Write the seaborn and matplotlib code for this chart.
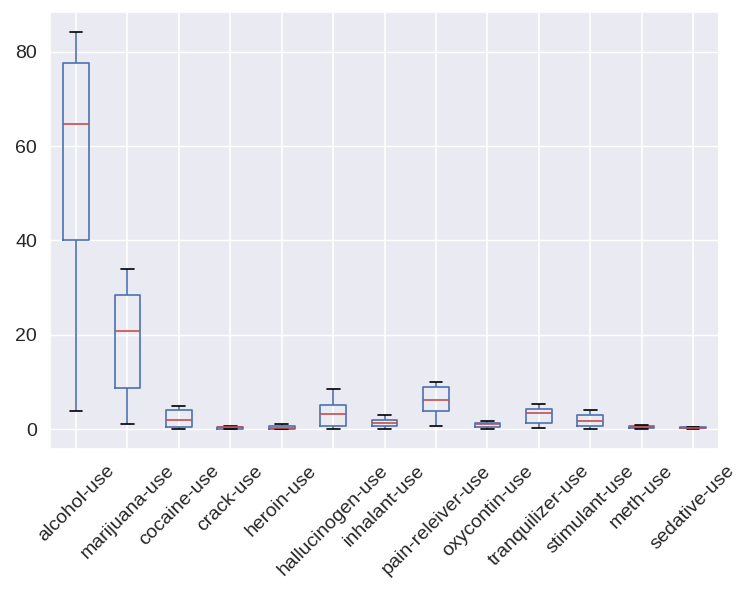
import numpy as np
import pandas as pd
import matplotlib.pyplot as plt
import seaborn as sns

# Drug use by age group (percent of each age group using the drug in the past 12 months)
alcohol_use = [3.9, 8.5, 18.1, 29.2, 40.1, 49.3, 58.7, 64.6, 69.7, 83.2, 84.2, 83.1, 80.7, 77.5, 75.0, 67.2, 49.3]
marijuana_use = [1.1, 3.4, 8.7, 14.5, 22.5, 28.0, 33.7, 33.4, 34.0, 33.0, 28.4, 24.9, 20.8, 16.4, 10.4, 7.3, 1.2]
cocaine_use = [0.1, 0.1, 0.1, 0.5, 1.0, 2.0, 3.2, 4.1, 4.9, 4.8, 4.5, 4.0, 3.2, 2.1, 1.5, 0.9, 0.0]
crack_use = [0.0, 0.0, 0.0, 0.1, 0.0, 0.1, 0.4, 0.5, 0.6, 0.5, 0.5, 0.5, 0.4, 0.5, 0.5, 0.4, 0.0]
heroin_use = [0.1, 0.0, 0.1, 0.2, 0.1, 0.1, 0.4, 0.5, 0.9, 0.6, 1.1, 0.7, 0.6, 0.4, 0.1, 0.1, 0.0]
hallucinogen_use = [0.2, 0.6, 1.6, 2.1, 3.4, 4.8, 7.0, 8.6, 7.4, 6.3, 5.2, 4.5, 3.2, 1.8, 0.6, 0.3, 0.1]
inhalant_use = [1.6, 2.5, 2.6, 2.5, 3.0, 2.0, 1.8, 1.4, 1.5, 1.4, 1.0, 0.8, 0.6, 0.4, 0.3, 0.2, 0.0]
pain_releiver_use = [2.0, 2.4, 3.9, 5.5, 6.2, 8.5, 9.2, 9.4, 10.0, 9.0, 10.0, 9.0, 8.3, 5.9, 4.2, 2.5, 0.6]
oxycontin_use = [0.1, 0.1, 0.4, 0.8, 1.1, 1.4, 1.7, 1.5, 1.7, 1.3, 1.7, 1.3, 1.2, 0.9, 0.3, 0.4, 0.0]
tranquilizer_use = [0.2, 0.3, 0.9, 2.0, 2.4, 3.5, 4.9, 4.2, 5.4, 3.9, 4.4, 4.3, 4.2, 3.6, 1.9, 1.4, 0.2]
stimulant_use = [0.2, 0.3, 0.8, 1.5, 1.8, 2.8, 3.0, 3.3, 4.0, 4.1, 3.6, 2.6, 2.3, 1.4, 0.6, 0.3, 0.0]
meth_use = [0.0, 0.1, 0.1, 0.3, 0.3, 0.6, 0.5, 0.4, 0.9, 0.6, 0.6, 0.7, 0.6, 0.4, 0.2, 0.2, 0.0]
sedative_use = [0.2, 0.1, 0.2, 0.4, 0.2, 0.5, 0.4, 0.3, 0.5, 0.3, 0.2, 0.2, 0.4, 0.2, 0.1, 0.1, 0.0]

df = pd.DataFrame({
    'alcohol-use': alcohol_use,
    'marijuana-use': marijuana_use,
    'cocaine-use': cocaine_use,
    'crack-use': crack_use,
    'heroin-use': heroin_use,
    'hallucinogen-use': hallucinogen_use,
    'inhalant-use': inhalant_use,
    'pain-releiver-use': pain_releiver_use,
    'oxycontin-use': oxycontin_use,
    'tranquilizer-use': tranquilizer_use,
    'stimulant-use': stimulant_use,
    'meth-use': meth_use,
    'sedative-use': sedative_use,
})
long_df = df.melt(var_name='drug', value_name='pct')

sns.set_theme(style='darkgrid')
plt.rcParams['font.family'] = ['Liberation Sans', 'DejaVu Sans']

fig, ax = plt.subplots(figsize=(7.55, 5.98), dpi=100)
fig.subplots_adjust(left=0.0666, right=0.952, top=0.98, bottom=0.249)

blue = '#4C72B0'
red = '#C44E52'
lw = 1.2
sns.boxplot(data=long_df, x='drug', y='pct', order=list(df.columns),
            fill=False, width=0.5, showfliers=False, whis=1.5, ax=ax,
            color=blue, linewidth=lw,
            boxprops=dict(color=blue, linewidth=lw),
            whiskerprops=dict(color=blue, linewidth=lw),
            capprops=dict(color='black', linewidth=lw),
            medianprops=dict(color=red, linewidth=lw))

# vertical grid lines at each category, like the pandas box plot
ax.xaxis.grid(True, color='white', linewidth=1.2)
ax.set_axisbelow(True)

ax.set_xlabel('')
ax.set_ylabel('')
ax.set_yticks([0, 20, 40, 60, 80])
ax.tick_params(axis='x', labelrotation=45, labelsize=14, colors='#262626')
ax.tick_params(axis='y', labelsize=14, colors='#262626')
for lbl in ax.get_xticklabels():
    lbl.set_ha('center')

plt.savefig('out.png', dpi=100)
